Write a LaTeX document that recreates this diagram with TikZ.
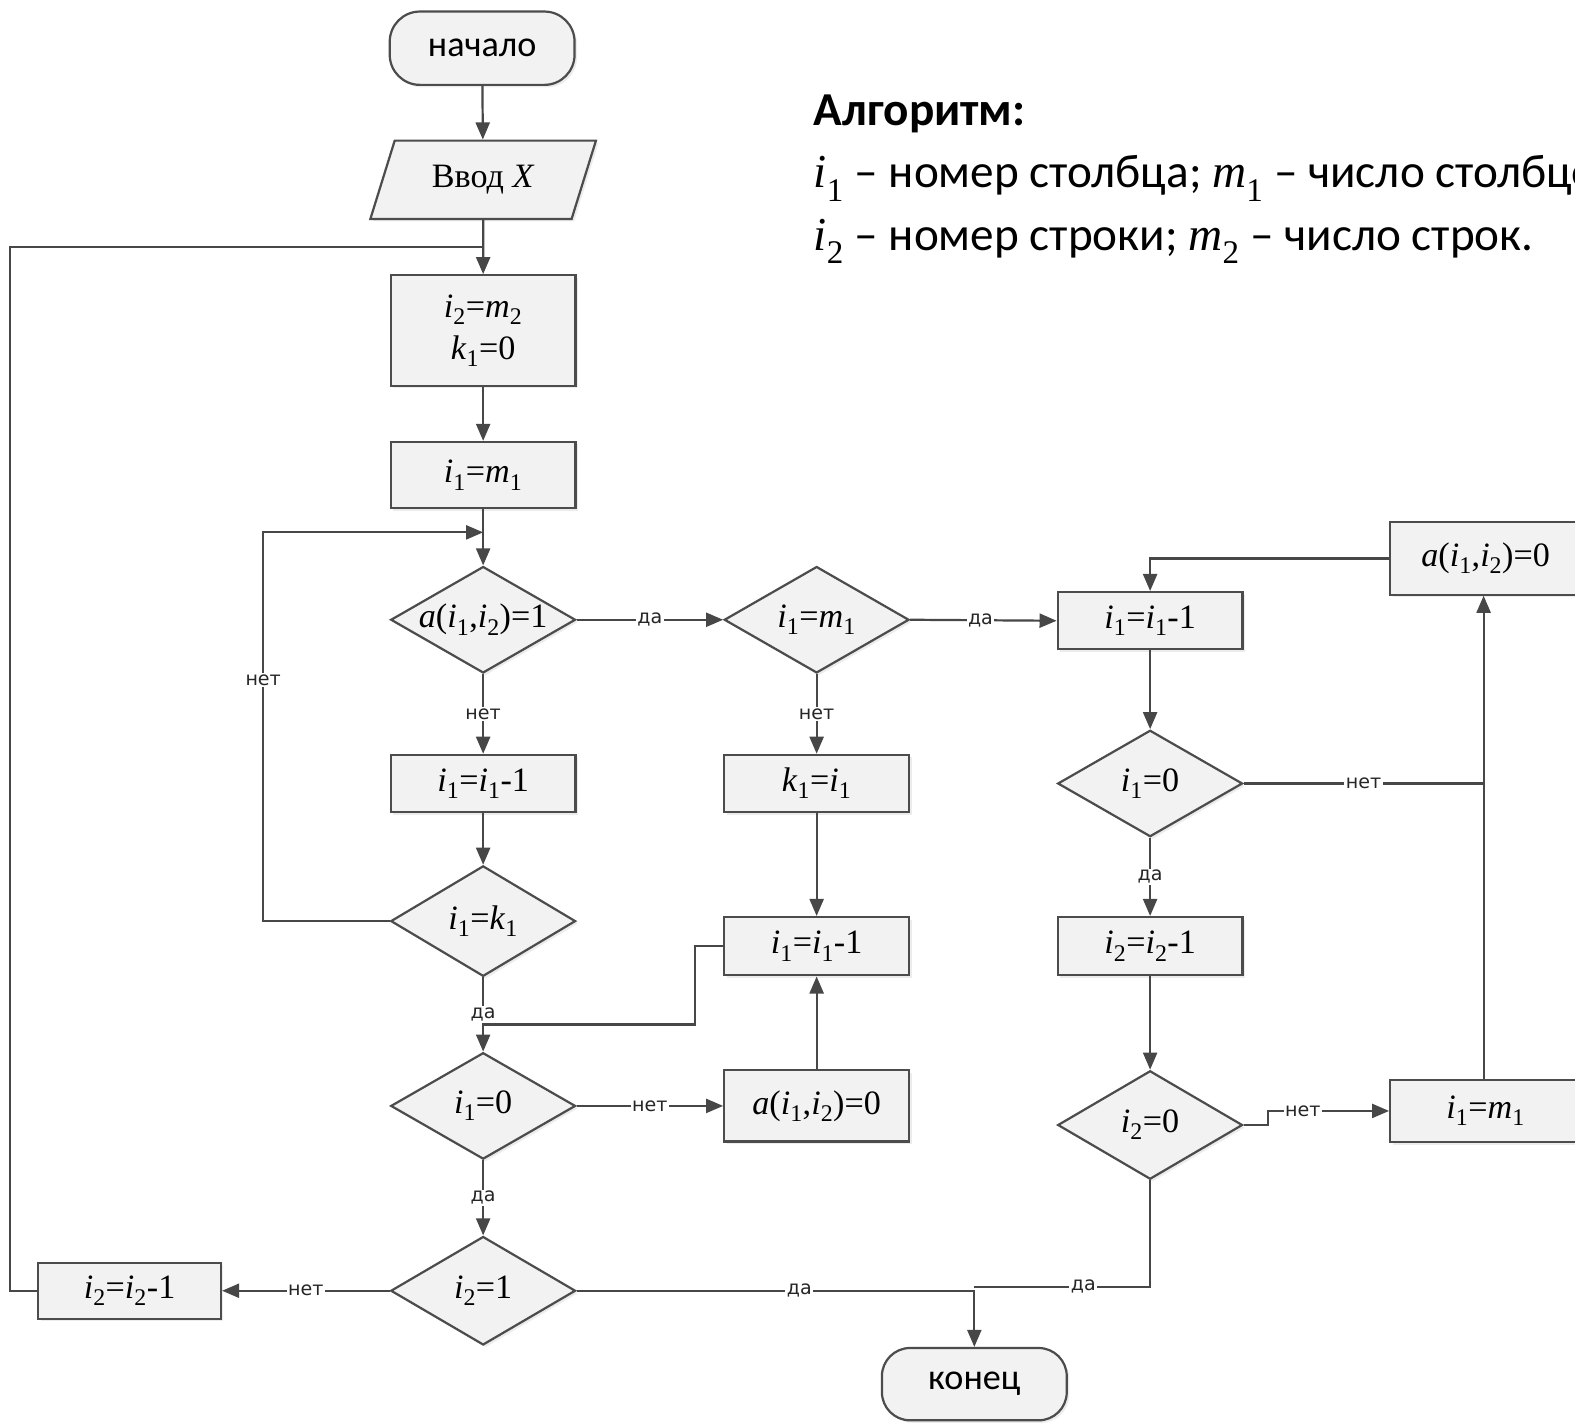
\documentclass[tikz,border=0pt]{standalone}
\usepackage{fontspec}
\setmainfont{Liberation Serif}
\newfontfamily\calib{Carlito}
\newfontfamily\lbfont{DejaVu Sans}
\usetikzlibrary{shapes.geometric,arrows.meta,shadows}
\newcommand\vv[2]{\textit{#1}\textsubscript{#2}}
\newcommand\lv[2]{{\rmfamily\vv{#1}{#2}}}
\begin{document}
\begin{tikzpicture}[x=1pt,y=-1pt,
  lc/.style={draw=black!72, line width=2.2pt},
  arr/.style={lc, -{Triangle[length=17pt,width=14pt]}},
  ln/.style={lc},
  blk/.style={draw=black!70, line width=2.2pt, fill=black!5,
    drop shadow={shadow xshift=2.5pt,shadow yshift=-2.5pt,opacity=0.15},
    font=\fontsize{34}{42}\selectfont, inner sep=0pt},
  box/.style={blk, rectangle, minimum width=184pt, minimum height=57pt},
  dia/.style={blk, diamond, minimum width=184pt, minimum height=106pt},
  dl/.style={font=\fontsize{34}{40}\selectfont, inner sep=0pt},
  term/.style={blk, rounded corners=30pt, minimum width=184pt, minimum height=73pt,
    font=\calib\fontsize{36}{40}\selectfont},
  io/.style={blk, trapezium, trapezium left angle=64, trapezium right angle=116,
    trapezium stretches=true, minimum width=225pt, minimum height=78pt},
  lab/.style={fill=white, inner sep=1.5pt, font=\lbfont\fontsize{19}{22}\selectfont, text=black!85},
  leg/.style={anchor=base west, inner sep=0pt, font=\calib\fontsize{47}{54}\selectfont},
]
\useasboundingbox (0,0) rectangle (1568,1420);
\clip (0,0) rectangle (1568,1420);

% legend
\node[leg, font=\calib\bfseries\fontsize{47}{54}\selectfont] (t0) at (810,125) {Алгоритм:};
\node[leg] (t1) at (810,187) {\lv{i}{1} – номер столбца; \lv{m}{1} – число столбцов;};
\node[leg] (t2) at (810,249) {\lv{i}{2} – номер строки; \lv{m}{2} – число строк.};

% nodes
\node[term] (start) at (480,48) {начало};
\node[io] (inp) at (481,179) {Ввод \textit{X}};
\node[box, minimum height=110pt, align=center] (b1) at (481,329) {\vv{i}{2}=\vv{m}{2}\\\vv{k}{1}=0};
\node[box, minimum height=66pt] (b2) at (481,473) {\vv{i}{1}=\vv{m}{1}};
\node[dia, label={[dl]center:\textit{a}(\vv{i}{1},\vv{i}{2})=1}] (d1) at (481,617) {};
\node[dia, label={[dl]center:\vv{i}{1}=\vv{m}{1}}] (d2) at (813,617) {};
\node[box] (r1) at (1145,618) {\vv{i}{1}=\vv{i}{1}-1};
\node[box, minimum width=190pt, minimum height=72pt] (r0) at (1479,556) {\textit{a}(\vv{i}{1},\vv{i}{2})=0};
\node[dia, label={[dl]center:\vv{i}{1}=0}] (d3) at (1145,780) {};
\node[box, minimum height=58pt] (r2) at (1145,942) {\vv{i}{2}=\vv{i}{2}-1};
\node[dia, minimum height=108pt, label={[dl]center:\vv{i}{2}=0}] (d4) at (1145,1120) {};
\node[box, minimum width=190pt, minimum height=62pt] (rm) at (1479,1106) {\vv{i}{1}=\vv{m}{1}};
\node[box] (l1) at (481,780) {\vv{i}{1}=\vv{i}{1}-1};
\node[box] (k1) at (813,780) {\vv{k}{1}=\vv{i}{1}};
\node[dia, minimum height=110pt, label={[dl]center:\vv{i}{1}=\vv{k}{1}}] (d5) at (481,917) {};
\node[box, minimum height=58pt] (m1) at (813,942) {\vv{i}{1}=\vv{i}{1}-1};
\node[dia, label={[dl]center:\vv{i}{1}=0}] (d6) at (481,1101) {};
\node[box, minimum height=71pt] (ma) at (813,1101) {\textit{a}(\vv{i}{1},\vv{i}{2})=0};
\node[dia, minimum height=108pt, label={[dl]center:\vv{i}{2}=1}] (d7) at (481,1285) {};
\node[box, minimum width=182pt, minimum height=56pt] (lb) at (129,1285) {\vv{i}{2}=\vv{i}{2}-1};
\node[term, minimum height=72pt, rounded corners=28pt] (end) at (970,1378) {конец};

% routing coordinates
\coordinate (j0) at (481,246);
\coordinate (L) at (10,0);
\coordinate (j1) at (481,530);
\coordinate (L2) at (262,0);
\coordinate (j2) at (481,1020);
\coordinate (X2) at (692,0);
\coordinate (J3) at (970,1281);
\coordinate (cx) at (1477,0);
\coordinate (X4) at (1262,0);

% connectors
\draw[arr] (start) -- (inp);
\draw[arr] (inp) -- (b1);
\draw[ln] (lb.west) -- (lb.west -| L) -- (L |- j0) -- (j0);
\draw[arr] (b1) -- (b2);
\draw[arr] (b2) -- (d1);
\draw[arr] (d5.west) -- (d5.west -| L2) -- node[lab, pos=0.62]{нет} (L2 |- j1) -- (j1);
\draw[arr] (d1.east) -- node[lab]{да} (d2.west);
\draw[arr] (d2.east) -- node[lab, pos=0.48]{да} (r1.west);
\draw[arr] (d1.south) -- node[lab]{нет} (l1.north);
\draw[arr] (d2.south) -- node[lab]{нет} (k1.north);
\draw[arr] (l1) -- (d5);
\draw[arr] (k1) -- (m1);
\draw[arr] (d5.south) -- node[lab, pos=0.5]{да} (d6.north);
\draw[ln] (m1.west) -- (m1.west -| X2) -- (X2 |- j2) -- (j2);
\draw[arr] (d6.east) -- node[lab]{нет} (ma.west);
\draw[arr] (ma) -- (m1);
\draw[arr] (d6.south) -- node[lab]{да} (d7.north);
\draw[arr] (d7.west) -- node[lab]{нет} (lb.east);
\draw[arr] (d7.east) -- node[lab, pos=0.56]{да} (d7.east -| end.north) -- (end.north);
\draw[ln] (d4.south) -- (d4.south |- J3) -- node[lab, pos=0.38]{да} (J3);
\draw[ln] (d3.east) -- node[lab]{нет} (d3.east -| cx);
\draw[arr] (rm.north -| cx) -- (r0.south -| cx);
\draw[arr] (r0.west) -| (r1.north);
\draw[arr] (r1) -- (d3);
\draw[arr] (d3.south) -- node[lab]{да} (r2.north);
\draw[arr] (r2) -- (d4);
\draw[arr] (d4.east) -- (d4.east -| X4) -- (X4 |- rm.west) -- node[lab, pos=0.29]{нет} (rm.west);
\end{tikzpicture}
\end{document}
